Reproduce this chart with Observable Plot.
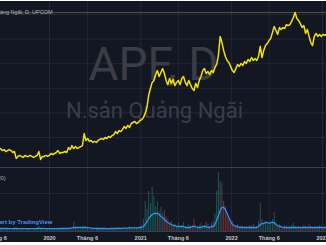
<!DOCTYPE html>
<html><head><meta charset="utf-8">
<script src="https://cdn.jsdelivr.net/npm/d3@7"></script>
<script src="https://cdn.jsdelivr.net/npm/@observablehq/plot@0.6"></script>
<style>
html,body{margin:0;padding:0;background:#ffffff;}
#chart{position:absolute;left:0;top:1px;width:326px;height:241px;background:#131722;overflow:hidden;}
#price{position:absolute;left:0;top:0;}
#sep{position:absolute;left:0;top:166px;width:326px;height:1px;background:#3a3e49;}
#vol{position:absolute;left:0;top:167px;}
svg{display:block;}
</style></head>
<body>
<div id="chart"><div id="price"></div><div id="sep"></div><div id="vol"></div></div>
<script>
// ---- data (weekly) ----
const startDate = "2019-06-18";
const endDate = "2023-01-17";
const closes = [
 25.5,24.7,25.1,24.3,24.7,25.1,24.7,23.9,24.3,21.5,
 22.3,22.7,22.3,21.9,22.7,22.3,22.3,22.7,22.3,21.9,
 22.3,22.7,24.3,21.1,22.3,22.3,22.7,22.3,22.7,23.5,
 23.1,23.5,23.9,24.7,23.5,23.9,23.9,24.3,23.9,25.9,
 25.1,26.7,25.5,26.3,25.5,25.9,26.3,26.7,31.6,28.8,
 29.6,28.4,28.8,28.0,28.4,28.0,28.8,29.2,29.6,29.2,
 30.0,29.6,30.4,30.0,30.8,31.2,32.4,31.6,32.8,32.4,
 33.3,34.5,33.7,34.9,34.1,35.7,36.1,36.5,35.7,36.1,
 36.9,37.3,38.1,39.8,42.2,47.1,49.9,52.4,53.2,55.6,
 57.2,54.8,56.4,58.0,56.0,53.2,51.5,54.0,52.0,53.6,
 51.1,52.4,53.2,51.5,54.0,54.8,52.4,51.1,53.2,51.5,
 49.9,49.1,52.0,50.3,53.2,54.8,57.2,58.0,56.0,56.8,
 55.6,57.2,56.4,58.5,59.7,63.3,71.1,68.6,65.4,62.9,
 61.3,60.5,58.9,57.2,56.4,58.0,59.7,58.9,60.1,59.3,
 60.9,60.1,61.7,60.9,62.5,61.3,62.1,61.3,62.9,67.0,
 62.5,65.4,67.4,68.2,69.4,70.2,72.7,75.1,73.5,71.9,
 74.7,73.9,74.7,74.3,75.9,75.5,75.9,77.2,78.8,80.8,
 78.4,77.6,76.3,74.7,75.5,72.3,73.9,71.1,68.6,67.4,
 71.1,72.3,71.1,71.9,71.1,71.9,71.5,71.9
];
const volumes = [
 20,30,20,20,30,20,10,20,30,20,
 20,10,20,20,10,20,30,20,10,20,
 20,30,50,20,20,10,20,20,30,20,
 20,30,20,20,30,20,20,30,20,30,
 40,30,90,30,40,30,40,30,60,30,
 30,20,30,20,30,20,40,30,20,30,
 20,30,20,30,30,20,30,40,40,30,
 30,40,30,30,50,30,40,30,30,40,
 50,60,120,300,220,400,280,440,350,250,
 300,200,240,180,210,150,120,80,100,60,
 70,50,80,40,60,90,50,40,70,50,
 60,120,50,40,60,80,50,60,90,70,
 50,80,100,180,400,590,500,480,300,250,
 180,120,80,100,60,50,70,40,60,50,
 40,50,40,60,50,70,40,50,100,280,
 120,80,100,70,60,90,120,190,80,60,
 70,50,40,60,50,30,40,60,80,50,
 40,50,30,40,60,50,40,70,50,40,
 30,50,40,60,30,40,50,40
];
const volumeMA = [
 30,30,30,30,30,28,28,28,30,30,
 28,28,28,28,28,28,28,28,28,28,
 28,30,32,32,30,30,28,28,28,28,
 28,28,28,28,30,30,30,30,30,32,
 34,36,40,40,40,42,42,40,42,40,
 38,36,34,32,32,30,30,30,30,30,
 30,28,28,30,30,30,30,32,32,32,
 32,34,34,34,36,36,36,36,36,38,
 40,40,50,70,100,130,150,170,180,180,
 180,170,150,140,120,100,90,80,70,60,
 60,50,50,50,50,50,40,40,40,40,
 50,50,50,40,40,40,50,50,50,40,
 40,50,50,70,110,160,210,240,240,220,
 180,140,100,70,60,50,50,40,40,40,
 40,40,40,40,40,40,40,40,50,70,
 80,80,90,90,80,90,90,90,70,60,
 50,50,40,40,40,40,40,40,40,40,
 40,40,40,40,40,40,40,40,40,40,
 40,40,40,40,40,40,40,40
];
const tickDates = ["2019-06-01","2020-01-01","2020-06-01","2021-01-01","2021-06-01","2022-01-01","2022-06-01","2023-01-01"];
const tickLabels = ["Tháng 6","2020","Tháng 6","2021","Tháng 6","2022","Tháng 6","2023"];
const priceGrid = [30,40,50,60,70,80];
const volumeGrid = [380];
const watermarkTitle = "APF, D";
const watermarkName = "N.sản Quảng Ngãi";
const legendTitle = "APF · Nông sản Quảng Ngãi, D, UPCOM";
const volumeLegend = "Volume SMA 20 (20)";
const credit = "Chart by TradingView";

// ---- build ----
const start = new Date(startDate);
const data = closes.map((c, i) => ({
  date: d3.utcDay.offset(start, 7 * i),
  close: c,
  volume: volumes[i],
  ma: volumeMA[i],
  up: i === 0 || c >= closes[i - 1]
}));
const ticks = tickDates.map(d => new Date(d));
const labelOf = new Map(ticks.map((d, i) => [+d, tickLabels[i]]));
const xScale = {type: "utc", domain: [new Date(startDate), new Date(endDate)], range: [0, 326]};
const gridColor = "#232733";
const font = "Liberation Sans, Arial, sans-serif";

const price = Plot.plot({
  width: 326, height: 166, margin: 0,
  style: {background: "transparent", fontFamily: font, color: "#b2b5be"},
  x: {...xScale, axis: null},
  y: {domain: [30, 80], range: [136, 13], axis: null},
  marks: [
    Plot.ruleX(ticks, {x: d => d, stroke: gridColor}),
    Plot.ruleY(priceGrid, {y: d => d, stroke: gridColor}),
    Plot.ruleY([d3.max(closes)], {y: d => d, stroke: "#56532e"}),
    Plot.text([watermarkTitle], {text: d => d, frameAnchor: "middle", dx: -10, dy: -19, fontSize: 46, fontFamily: "Roboto, sans-serif", fill: "#3a3d46"}),
    Plot.text([watermarkName], {text: d => d, frameAnchor: "middle", dx: -9, dy: 26, fontSize: 22, fontFamily: "Roboto, sans-serif", fill: "#3a3d46"}),
    Plot.line(data, {x: "date", y: "close", stroke: "#f2e205", strokeWidth: 1.5}),
    Plot.text([legendTitle], {text: d => d, frameAnchor: "top-left", dx: 52, dy: 9, textAnchor: "end", fontSize: 5.5, fill: "#b2b5be"})
  ]
});
document.getElementById("price").append(price);

const vol = Plot.plot({
  width: 326, height: 74, marginTop: 0, marginBottom: 11, marginLeft: 0, marginRight: 0,
  style: {background: "transparent", fontFamily: font, color: "#c3c6ce", fontSize: "5.5px"},
  x: {...xScale},
  y: {domain: [0, 600], range: [63, 3], axis: null},
  marks: [
    Plot.ruleX(ticks, {x: d => d, stroke: gridColor}),
    Plot.ruleY(volumeGrid, {y: d => d, stroke: gridColor}),
    Plot.ruleX(data, {x: "date", y1: 0, y2: "volume", stroke: d => d.up ? "#26a69a" : "#ef5350", strokeOpacity: 0.45, strokeWidth: 1}),
    Plot.line(data, {x: "date", y: "ma", stroke: "#2196f3", strokeWidth: 1.3}),
    Plot.ruleY([0], {y: d => d, stroke: "#3a3e49"}),
    Plot.axisX(ticks, {anchor: "bottom", tickSize: 0, tickPadding: 5, tickFormat: d => labelOf.get(+d), fontSize: 5.5, fontWeight: 600, label: null}),
    Plot.text([volumeLegend], {text: d => d, frameAnchor: "top-left", dx: 5, dy: 8, textAnchor: "end", fontSize: 5.5, fill: "#b2b5be"}),
    Plot.text([credit], {text: d => d, frameAnchor: "top-left", dx: 52, dy: 51, textAnchor: "end", fontSize: 6, fontWeight: 600, fill: "#4a8cf2"})
  ]
});
document.getElementById("vol").append(vol);
</script>
</body></html>
